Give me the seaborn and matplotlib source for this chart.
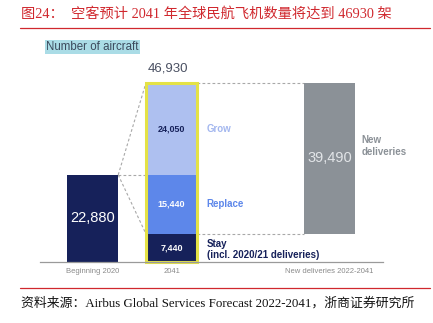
import matplotlib
matplotlib.use("Agg")
import matplotlib.pyplot as plt
import seaborn as sns
import pandas as pd

# ---------------- data ----------------
categories = ["Beginning 2020", "2041", "", "New deliveries 2022-2041"]
tick_labels = ["Beginning 2020", "2041", "New deliveries 2022-2041"]
beginning_2020 = [22880]
stay_2041 = [7440]
replace_2041 = [15440]
grow_2041 = [24050]
total_2041 = [46930]
new_deliveries = [39490]
segment_names = ["Grow", "Replace", "Stay\n(incl. 2020/21 deliveries)"]

title = "图24：  空客预计 2041 年全球民航飞机数量将达到 46930 架"
source = "资料来源：Airbus Global Services Forecast 2022-2041，浙商证券研究所"

# ---------------- style ----------------
sns.set_style("white")
plt.rcParams["font.family"] = ["Liberation Sans", "DejaVu Sans"]

NAVY = "#16215a"
REPLACE = "#5d87ea"
GROW = "#aec0f0"
GRAY = "#8b9197"
YELLOW = "#e4e246"
RED = "#d0282e"
DASH = "#a8a8a8"
W = 0.65

fig = plt.figure(figsize=(4.33, 3.23), dpi=100)
ax = fig.add_axes([40 / 433, (323 - 262) / 323, 343 / 433, 202 / 323])

def bar(val, cat, color, **kw):
    df = pd.DataFrame({"cat": [cat], "val": val})
    sns.barplot(data=df, x="cat", y="val", order=categories, color=color,
                width=W, saturation=1, errorbar=None, ax=ax, linewidth=0, **kw)

bar(beginning_2020, "Beginning 2020", NAVY)
bar(stay_2041, "2041", NAVY)
bar(replace_2041, "2041", REPLACE, bottom=stay_2041[0])
bar(grow_2041, "2041", GROW, bottom=stay_2041[0] + replace_2041[0])
bar(new_deliveries, "New deliveries 2022-2041", GRAY, bottom=stay_2041[0])
# yellow highlight border
df = pd.DataFrame({"cat": ["2041"], "val": total_2041})
sns.barplot(data=df, x="cat", y="val", order=categories, color=YELLOW, fill=False,
            width=W, saturation=1, errorbar=None, ax=ax, linewidth=2.2, clip_on=False)

px_per_val = 178.7 / total_2041[0]
ax.set_ylim(0, 202 / px_per_val)
ax.set_xlim(-0.665, 3.677)
ax.set_xlabel("")
ax.set_ylabel("")
ax.set_yticks([])
ax.set_xticks([0, 1, 3])
ax.set_xticklabels(tick_labels, fontsize=5.5, color="#8a8a8a")
ax.tick_params(axis="x", length=0, pad=4)
for s in ["top", "right", "left"]:
    ax.spines[s].set_visible(False)
ax.spines["bottom"].set_color("#9a9a9a")
ax.spines["bottom"].set_linewidth(0.9)

# dashed connectors
b_right = 0 + W / 2
m_left = 1 - W / 2
m_right = 1 + W / 2
g_left = 3 - W / 2
dkw = dict(color=DASH, lw=0.8, ls=(0, (2.5, 2)), zorder=0)
ax.plot([b_right, m_left], [beginning_2020[0], total_2041[0]], **dkw)
ax.plot([b_right, m_left], [beginning_2020[0], beginning_2020[0]], **dkw)
ax.plot([b_right, m_left], [beginning_2020[0], stay_2041[0]], **dkw)
ax.plot([m_right, g_left], [total_2041[0], total_2041[0]], **dkw)
ax.plot([m_right, g_left], [stay_2041[0], stay_2041[0]], **dkw)

# value labels
ax.text(0, beginning_2020[0] / 2, f"{beginning_2020[0]:,}", ha="center", va="center",
        color="white", fontsize=10.5)
ax.text(3, stay_2041[0] + new_deliveries[0] / 2, f"{new_deliveries[0]:,}", ha="center",
        va="center", color="#e2e5e8", fontsize=10.5)
ax.text(1, stay_2041[0] / 2, f"{stay_2041[0]:,}", ha="center", va="center",
        color="white", fontsize=6.5, fontweight="bold")
ax.text(1, stay_2041[0] + replace_2041[0] / 2, f"{replace_2041[0]:,}", ha="center",
        va="center", color="white", fontsize=6.5, fontweight="bold")
ax.text(1, stay_2041[0] + replace_2041[0] + grow_2041[0] / 2, f"{grow_2041[0]:,}",
        ha="center", va="center", color=NAVY, fontsize=6.5, fontweight="bold")
ax.annotate(f"{total_2041[0]:,}", (0.96, total_2041[0]), xytext=(0, 11),
            textcoords="offset points", ha="center", va="center",
            color="#4a5062", fontsize=9.5, annotation_clip=False)

# segment names
lx = m_right + 0.12
ax.text(lx, stay_2041[0] + replace_2041[0] + grow_2041[0] / 2, segment_names[0],
        ha="left", va="center", color="#a3b7ef", fontsize=7, fontweight="bold")
ax.text(lx, stay_2041[0] + replace_2041[0] / 2, segment_names[1],
        ha="left", va="center", color=REPLACE, fontsize=7, fontweight="bold")
ax.text(lx, stay_2041[0] / 2 - 400, segment_names[2], ha="left", va="center",
        color=NAVY, fontsize=7, fontweight="bold", linespacing=1.15)
ax.text(3 + W / 2 + 0.08, (262 - 146) / px_per_val, "New\ndeliveries",
        ha="left", va="center", color=GRAY, fontsize=7, fontweight="bold",
        linespacing=1.15)

# header "Number of aircraft"
fig.text(46 / 433, 1 - 47 / 323, "Number of aircraft", ha="left", va="center",
         fontsize=8.3, color="#3b4a5c",
         bbox=dict(boxstyle="square,pad=0.12", facecolor="#aadce6", edgecolor="none"))

# title, rules, source
cjk = ["Liberation Serif", "Noto Sans CJK SC"]
fig.text(21 / 433, 1 - 13.5 / 323, title, ha="left", va="center", color=RED,
         fontsize=10.25, family=cjk)
fig.add_artist(plt.Line2D([20 / 433, 430 / 433], [1 - 28 / 323, 1 - 28 / 323],
                          color=RED, lw=0.9))
fig.add_artist(plt.Line2D([20 / 433, 430 / 433], [1 - 288 / 323, 1 - 288 / 323],
                          color=RED, lw=0.9))
fig.text(21 / 433, 1 - 303 / 323, source, ha="left", va="center", color="#111111",
         fontsize=9.25, family=cjk)

fig.savefig("out.png", dpi=100)
